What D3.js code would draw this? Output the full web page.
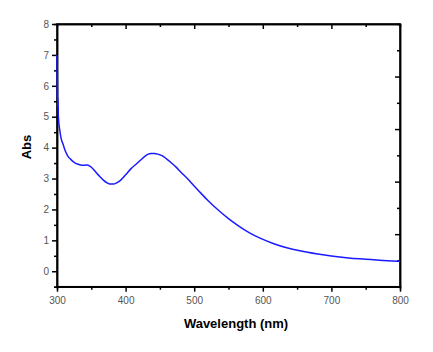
<!DOCTYPE html>
<html>
<head>
<meta charset="utf-8">
<script src="https://cdn.jsdelivr.net/npm/d3@7"></script>
<style>
    body { margin: 0; background: #fff; }
    .axis path, .axis line { stroke: #000; stroke-width: 1.5; }
    .axis text { fill: #555; font-family: "Liberation Sans", Arial, sans-serif; font-size: 10px; }
</style>
</head>
<body>
<div id="chart"></div>
<script>
// UV-vis spectrum
const wavelength = [300, 300.3, 300.6, 301, 301.5, 302, 304, 306, 309, 312, 316, 320, 326, 331, 336, 340, 344, 348, 353, 358,
    363, 368, 373, 377, 382, 387, 393, 400, 408, 416, 422, 428, 433, 437, 442, 447, 453, 460, 467, 474,
    480, 490, 500, 510, 520, 535, 550, 565, 580, 596, 615, 635, 654, 680, 700, 725, 750, 775, 800];
const absorbance = [7.0, 5.6, 6.4, 5.3, 5.6, 5.0, 4.57, 4.3, 4.1, 3.9, 3.72, 3.62, 3.51, 3.46, 3.43, 3.43, 3.44, 3.40, 3.30, 3.17,
    3.05, 2.94, 2.86, 2.82, 2.82, 2.86, 2.95, 3.12, 3.32, 3.48, 3.60, 3.72, 3.79, 3.81, 3.81, 3.79, 3.74, 3.63, 3.50, 3.36,
    3.22, 3.0, 2.76, 2.52, 2.29, 1.98, 1.70, 1.46, 1.25, 1.07, 0.90, 0.76, 0.66, 0.555, 0.49, 0.43, 0.39, 0.35, 0.32];

const xTicks = [300, 400, 500, 600, 700, 800];
const xMinorTicks = [350, 450, 550, 650, 750];
const yTicks = [0, 1, 2, 3, 4, 5, 6, 7, 8];
const yMinorTicks = [-0.5, 0.5, 1.5, 2.5, 3.5, 4.5, 5.5, 6.5, 7.5];
// mirrored right axis uses its own range in the original
const rightTicks = [1, 2, 3, 4];
const rightMinorTicks = [0.5, 1.5, 2.5, 3.5, 4.5];

const width = 433;
const height = 352;
const plotLeft = 57, plotRight = 400, plotTop = 24, plotBottom = 286.7;

const svg = d3.select("#chart")
    .append("svg")
    .attr("width", width)
    .attr("height", height);

const xScale = d3.scaleLinear().domain([300, 800]).range([plotLeft, plotRight]);
const yScale = d3.scaleLinear().domain([-0.5, 8]).range([plotBottom, plotTop]);
const yRight = d3.scaleLinear().domain([0, 5]).range([plotBottom, plotTop]);

// minor ticks first
svg.append("g").attr("class", "axis")
    .attr("transform", `translate(0, ${plotBottom})`)
    .call(d3.axisBottom(xScale).tickValues(xMinorTicks).tickSize(3).tickFormat(""));
svg.append("g").attr("class", "axis")
    .attr("transform", `translate(0, ${plotTop})`)
    .call(d3.axisBottom(xScale).tickValues(xMinorTicks).tickSize(3).tickFormat(""));
svg.append("g").attr("class", "axis")
    .attr("transform", `translate(${plotLeft}, 0)`)
    .call(d3.axisLeft(yScale).tickValues(yMinorTicks).tickSize(3).tickFormat(""));
svg.append("g").attr("class", "axis")
    .attr("transform", `translate(${plotRight}, 0)`)
    .call(d3.axisLeft(yRight).tickValues(rightMinorTicks).tickSize(3).tickFormat(""));

// major ticks
svg.append("g").attr("class", "axis")
    .attr("transform", `translate(0, ${plotBottom})`)
    .call(d3.axisBottom(xScale).tickValues(xTicks).tickSize(5).tickSizeOuter(0).tickPadding(5));
svg.append("g").attr("class", "axis")
    .attr("transform", `translate(0, ${plotTop})`)
    .call(d3.axisBottom(xScale).tickValues(xTicks.slice(1, -1)).tickSize(5).tickSizeOuter(0).tickFormat(""));
svg.append("g").attr("class", "axis")
    .attr("transform", `translate(${plotLeft}, 0)`)
    .call(d3.axisLeft(yScale).tickValues(yTicks).tickSize(5).tickSizeOuter(0).tickPadding(3));
svg.append("g").attr("class", "axis")
    .attr("transform", `translate(${plotRight}, 0)`)
    .call(d3.axisLeft(yRight).tickValues(rightTicks).tickSize(5).tickSizeOuter(0).tickFormat(""));

// frame
svg.append("rect")
    .attr("x", plotLeft)
    .attr("y", plotTop)
    .attr("width", plotRight - plotLeft)
    .attr("height", plotBottom - plotTop)
    .attr("fill", "none")
    .attr("stroke", "#000")
    .attr("stroke-width", 1.5);

// spectrum
const data = wavelength.map((w, i) => [w, absorbance[i]]);
const line = d3.line()
    .x(d => xScale(d[0]))
    .y(d => yScale(d[1]))
    .curve(d3.curveMonotoneX);
svg.append("path")
    .datum(data)
    .attr("d", line)
    .attr("fill", "none")
    .attr("stroke", "#1a1aff")
    .attr("stroke-width", 1.5);

// axis titles
svg.append("text")
    .attr("x", 236)
    .attr("y", 328)
    .attr("text-anchor", "middle")
    .attr("font-family", "Liberation Sans, Arial, sans-serif")
    .attr("font-weight", "bold")
    .attr("font-size", "13px")
    .text("Wavelength (nm)");

svg.append("text")
    .attr("transform", "translate(31, 147) rotate(-90)")
    .attr("text-anchor", "middle")
    .attr("font-family", "Liberation Sans, Arial, sans-serif")
    .attr("font-weight", "bold")
    .attr("font-size", "13px")
    .text("Abs");
</script>
</body>
</html>
